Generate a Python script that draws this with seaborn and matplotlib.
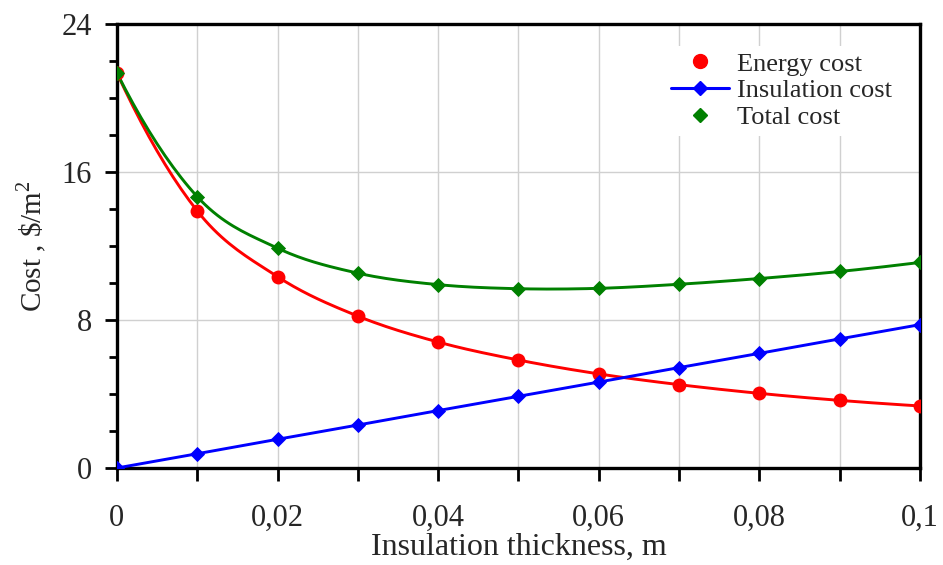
import numpy as np
import pandas as pd
import matplotlib
matplotlib.use("Agg")
import matplotlib.pyplot as plt
from matplotlib.ticker import MultipleLocator, FuncFormatter
from matplotlib.lines import Line2D
import seaborn as sns

# Insulation thickness (m) and the three cost series ($/m^2)
thickness = [0.0, 0.01, 0.02, 0.03, 0.04, 0.05, 0.06, 0.07, 0.08, 0.09, 0.10]
energy_cost = [21.33, 13.88, 10.33, 8.20, 6.80, 5.83, 5.08, 4.50, 4.03, 3.65, 3.35]
insulation_cost = [0.0, 0.77, 1.55, 2.32, 3.10, 3.87, 4.64, 5.42, 6.19, 6.97, 7.74]
total_cost = [21.33, 14.65, 11.87, 10.52, 9.90, 9.68, 9.70, 9.92, 10.23, 10.61, 11.10]

RED, BLUE, GREEN = "#ff0000", "#0000ff", "#008000"


def smooth(x, y, n=20):
    """Catmull-Rom spline through the given points (quadratic end extension)."""
    x = np.asarray(x, float)
    y = np.asarray(y, float)

    def extend(a):
        head = 3 * a[0] - 3 * a[1] + a[2]
        tail = 3 * a[-1] - 3 * a[-2] + a[-3]
        return np.concatenate([[head], a, [tail]])

    px, py = extend(x), extend(y)
    xs, ys = [], []
    t = np.linspace(0, 1, n, endpoint=False)
    for i in range(1, len(px) - 2):
        f = lambda a0, a1, a2, a3: 0.5 * (2 * a1 + (-a0 + a2) * t
                                          + (2 * a0 - 5 * a1 + 4 * a2 - a3) * t ** 2
                                          + (-a0 + 3 * a1 - 3 * a2 + a3) * t ** 3)
        xs.append(f(px[i - 1], px[i], px[i + 1], px[i + 2]))
        ys.append(f(py[i - 1], py[i], py[i + 1], py[i + 2]))
    xs.append([x[-1]])
    ys.append([y[-1]])
    return np.concatenate(xs), np.concatenate(ys)


sns.set_theme(style="white")
plt.rcParams["font.family"] = ["Liberation Serif", "DejaVu Serif"]
plt.rcParams["mathtext.fontset"] = "custom"
plt.rcParams["mathtext.rm"] = "Liberation Serif"

fig = plt.figure(figsize=(9.43, 5.65), dpi=100)
ax = fig.add_axes([0.124, 0.1717, 0.8516, 0.7867])

# smooth curves for energy and total cost
ex, ey = smooth(thickness, energy_cost)
tx, ty = smooth(thickness, total_cost)
sns.lineplot(x=ex, y=ey, ax=ax, color=RED, lw=2.1, sort=False, zorder=3)
sns.lineplot(x=tx, y=ty, ax=ax, color=GREEN, lw=2.1, sort=False, zorder=3)
sns.lineplot(x=thickness, y=insulation_cost, ax=ax, color=BLUE, lw=2.1, zorder=3)

sns.scatterplot(x=thickness, y=energy_cost, ax=ax, color=RED, marker="o",
                s=100, edgecolor=RED, linewidth=0, zorder=4)
sns.scatterplot(x=thickness, y=insulation_cost, ax=ax, color=BLUE, marker="D",
                s=60, edgecolor=BLUE, linewidth=0, zorder=4)
sns.scatterplot(x=thickness, y=total_cost, ax=ax, color=GREEN, marker="D",
                s=60, edgecolor=GREEN, linewidth=0, zorder=4)

ax.set_xlim(0, 0.1)
ax.set_ylim(0, 24)
ax.xaxis.set_major_locator(MultipleLocator(0.02))
ax.xaxis.set_minor_locator(MultipleLocator(0.01))
ax.yaxis.set_major_locator(MultipleLocator(8))
ax.yaxis.set_minor_locator(MultipleLocator(2))


def comma_fmt(v, pos):
    if abs(v) < 1e-9:
        return "0"
    s = f"{v:.2f}".rstrip("0")
    return s.replace(".", ",")


ax.xaxis.set_major_formatter(FuncFormatter(comma_fmt))
ax.yaxis.set_major_formatter(FuncFormatter(lambda v, p: f"{v:.0f}"))

ax.grid(True, which="major", axis="y", color="#d0d0d0", lw=1)
ax.grid(True, which="both", axis="x", color="#d0d0d0", lw=1)
ax.set_axisbelow(True)

for sp in ax.spines.values():
    sp.set_visible(True)
    sp.set_color("black")
    sp.set_linewidth(2.4)

ax.tick_params(axis="both", which="both", direction="out", color="black",
               bottom=True, left=True, top=False, right=False)
ax.tick_params(axis="y", which="major", length=9, width=2, labelsize=22, pad=9)
ax.tick_params(axis="y", which="minor", length=6, width=2)
ax.tick_params(axis="x", which="both", length=9, width=2, labelsize=22, pad=17)

ax.set_xlabel("Insulation thickness, m", fontsize=23, labelpad=0)
ax.set_ylabel("Cost , \\$/m$^2$", fontsize=21, labelpad=9)

handles = [
    Line2D([], [], color=RED, marker="o", ls="none", markersize=10),
    Line2D([], [], color=BLUE, marker="D", lw=2.2, markersize=7),
    Line2D([], [], color=GREEN, marker="D", ls="none", markersize=7),
]
leg = ax.legend(handles, ["Energy cost", "Insulation cost", "Total cost"],
                loc="upper right", fontsize=19, frameon=True, fancybox=False,
                framealpha=1, edgecolor="white", handlelength=2.2,
                handletextpad=0.3, labelspacing=0.12,
                bbox_to_anchor=(0.99, 0.98), borderpad=0.25)
leg.get_frame().set_linewidth(0)

fig.savefig("out.png", dpi=100)
